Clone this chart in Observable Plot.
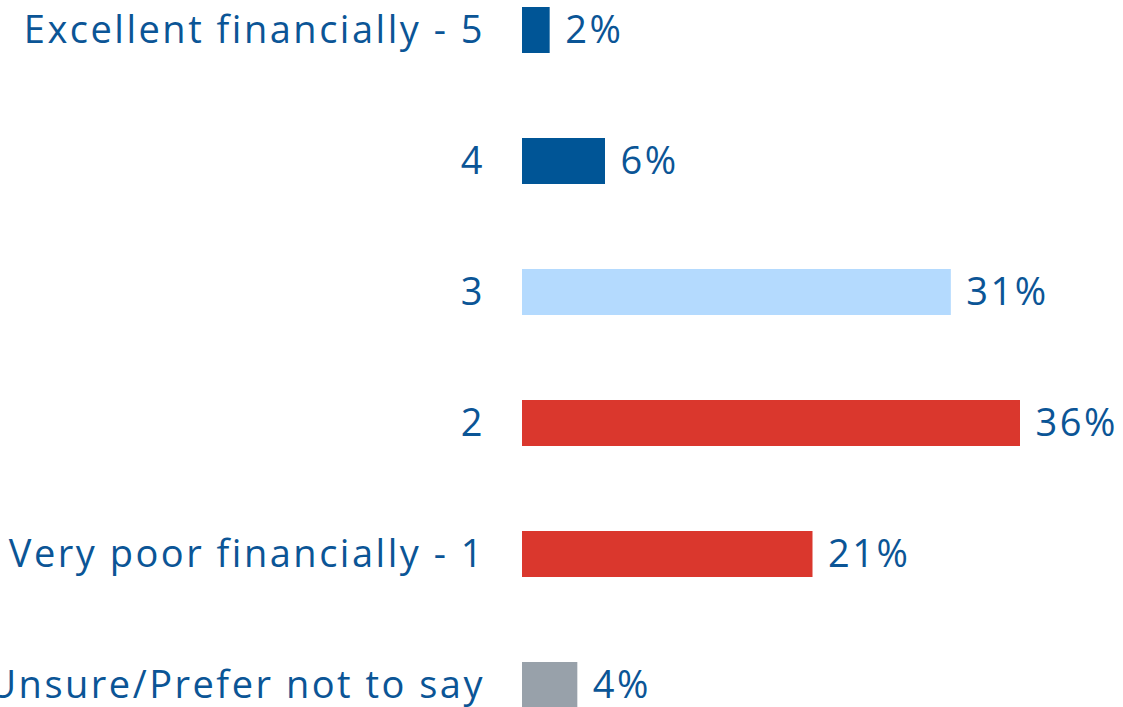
<!DOCTYPE html>
<html>
<head>
<meta charset="utf-8">
<script src="https://cdn.jsdelivr.net/npm/d3@7"></script>
<script src="https://cdn.jsdelivr.net/npm/@observablehq/plot@0.6"></script>
<style>
  html, body { margin: 0; padding: 0; background: #fff; overflow: hidden; }
  #chart svg { display: block; }
</style>
</head>
<body>
<div id="chart"></div>
<script>
const categories = ["Excellent financially - 5", "4", "3", "2", "Very poor financially - 1", "Unsure/Prefer not to say"];
const values = [2, 6, 31, 36, 21, 4];
const colors = ["#005596", "#005596", "#b4dafe", "#da372d", "#da372d", "#98a1aa"];

const data = categories.map((c, i) => ({category: c, value: values[i], color: colors[i]}));
const textColor = "#0b5596";

const chart = Plot.plot({
  width: 1123,
  height: 707,
  marginLeft: 0, marginRight: 0, marginTop: 0, marginBottom: 0,
  style: {fontFamily: "'Open Sans', sans-serif", overflow: "hidden", letterSpacing: "2.5px"},
  x: {domain: [0, 36], range: [522, 1020], axis: null},
  y: {domain: categories, range: [-35.5, 750.5], paddingInner: 0.65, paddingOuter: 0.325, axis: null},
  marks: [
    Plot.barX(data, {x: "value", y: "category", fill: d => d.color}),
    Plot.text(data, {x: 0, y: "category", text: "category", textAnchor: "end", dx: -37.5, fill: textColor, fontSize: 38}),
    Plot.text(data, {x: "value", y: "category", text: d => d.value + "%", textAnchor: "start", dx: 15, fill: textColor, fontSize: 38})
  ]
});
document.getElementById("chart").appendChild(chart);
</script>
</body>
</html>
